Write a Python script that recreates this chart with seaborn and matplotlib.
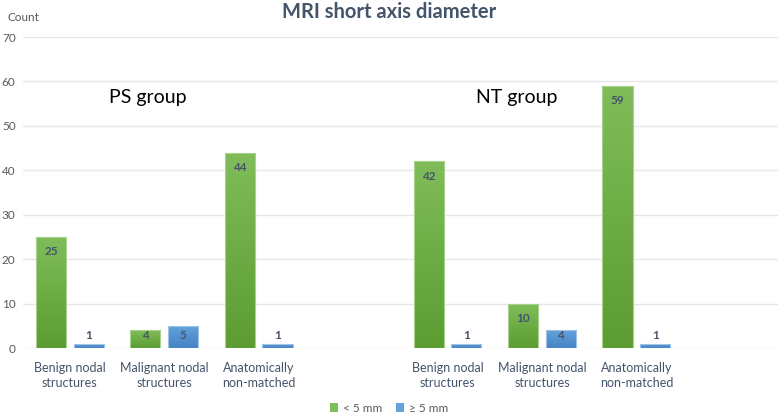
import numpy as np
import pandas as pd
import seaborn as sns
import matplotlib.pyplot as plt
from matplotlib.colors import LinearSegmentedColormap
from matplotlib.patches import Patch

# slots: PS group (3), gap, NT group (3), gap
slots = ["ps_benign", "ps_malig", "ps_anat", "gap1",
         "nt_benign", "nt_malig", "nt_anat", "gap2"]
slot_labels = ["Benign nodal\nstructures", "Malignant nodal\nstructures", "Anatomically\nnon-matched", "",
               "Benign nodal\nstructures", "Malignant nodal\nstructures", "Anatomically\nnon-matched", ""]
categories = ["ps_benign", "ps_malig", "ps_anat", "nt_benign", "nt_malig", "nt_anat"]
under_5mm = [25, 4, 44, 42, 10, 59]
over_5mm = [1, 5, 1, 1, 4, 1]
sizes = ["< 5 mm", "\u2265 5 mm"]

df = pd.DataFrame({
    "category": categories * 2,
    "size": [sizes[0]] * len(categories) + [sizes[1]] * len(categories),
    "count": under_5mm + over_5mm,
})

sns.set_style("white")
plt.rcParams["font.family"] = ["Lato", "DejaVu Sans"]

text_col = "#44546a"
tick_col = "#595959"
green_top, green_bot = "#80bd5a", "#5c9c31"
blue_top, blue_bot = "#63a2db", "#4683c4"

fig = plt.figure(figsize=(7.78, 4.15), dpi=100)
ax = fig.add_axes([0.029, 0.1614, 0.971, 0.7494])

sns.barplot(data=df, x="category", y="count", hue="size", order=slots,
            hue_order=sizes, palette=[green_bot, blue_bot], width=0.8, gap=0.2,
            legend=False, ax=ax)

# gradient fill for each bar
cmaps = {
    sizes[0]: LinearSegmentedColormap.from_list("g", [green_bot, green_top]),
    sizes[1]: LinearSegmentedColormap.from_list("b", [blue_bot, blue_top]),
}
edges = {sizes[0]: "#a9d18e", sizes[1]: "#9dc3e6"}
grad = np.linspace(0, 1, 256).reshape(-1, 1)
for cont, sz in zip(ax.containers, sizes):
    for bar in cont:
        h = bar.get_height()
        if np.isnan(h) or h == 0:
            continue
        x0 = bar.get_x()
        w = bar.get_width()
        bar.set_facecolor("none")
        bar.set_edgecolor(edges[sz])
        bar.set_linewidth(0.8)
        im = ax.imshow(grad, extent=[x0, x0 + w, 0, h], origin="lower",
                       cmap=cmaps[sz], aspect="auto", zorder=bar.get_zorder() - 0.1)
        im.set_clip_path(bar)
        ly = max(h - 3.3, 2.9)
        ax.text(x0 + w / 2, ly, f"{int(h)}", ha="center", va="center",
                fontsize=8.5, fontweight="bold", color=text_col, zorder=5)

ax.set_xlim(-0.5, 7.5)
ax.set_ylim(0, 70)
ax.set_yticks(range(0, 71, 10))
ax.set_xticks(range(len(slots)))
ax.set_xticklabels(slot_labels, fontsize=9, color=text_col, linespacing=1.35)
ax.tick_params(axis="y", labelsize=8.5, labelcolor=tick_col, length=0, pad=5)
ax.tick_params(axis="x", length=0, pad=10)
ax.set_xlabel("")
ax.set_ylabel("")
ax.grid(axis="y", color="#e6e6eb", linewidth=1)
ax.set_axisbelow(True)
for s in ax.spines.values():
    s.set_visible(False)

fig.text(0.5, 0.972, "MRI short axis diameter", ha="center", va="center",
         fontsize=14.5, fontweight="bold", color=text_col)
fig.text(0.009, 0.957, "Count", ha="left", va="center", fontsize=8.5, color=tick_col)
fig.text(148 / 778, 1 - 97 / 415, "PS group", ha="center", va="center", fontsize=14, color="black")
fig.text(517 / 778, 1 - 97 / 415, "NT group", ha="center", va="center", fontsize=14, color="black")

handles = [Patch(facecolor=green_top, edgecolor="none"), Patch(facecolor=blue_top, edgecolor="none")]
fig.legend(handles, sizes, loc="center", bbox_to_anchor=(0.5, 1 - 408 / 415), ncol=2,
           frameon=False, fontsize=8.5, handlelength=0.7, handleheight=0.7,
           handletextpad=0.4, columnspacing=1.2, labelcolor=tick_col)

fig.savefig("out.png", dpi=100)
